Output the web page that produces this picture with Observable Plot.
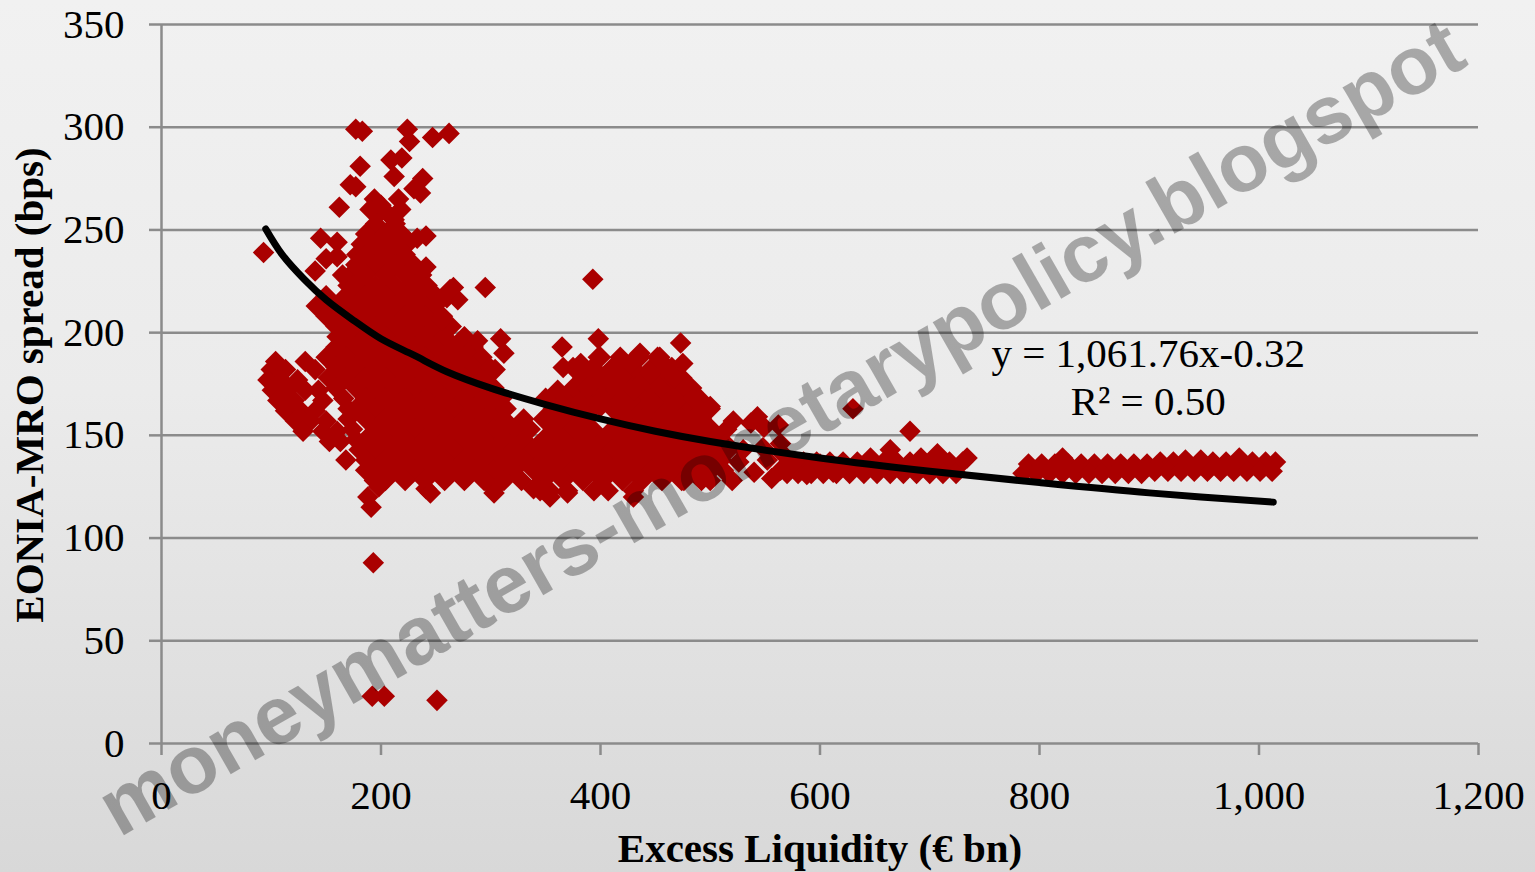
<!DOCTYPE html>
<html><head><meta charset="utf-8">
<script src="https://cdn.jsdelivr.net/npm/d3@7"></script>
<script src="https://cdn.jsdelivr.net/npm/@observablehq/plot@0.6"></script>
<style>html,body{margin:0;padding:0;background:#e4e4e4;overflow:hidden;}</style>
</head><body><div id="chart"></div>
<script>
const xTicks = [0, 200, 400, 600, 800, 1000, 1200];
const yTicks = [0, 50, 100, 150, 200, 250, 300, 350];
const trendX = [95, 110, 130, 150, 175, 200, 230, 260, 300, 350, 400, 450, 500, 600, 700, 800, 900, 1013];
const trendY = [250.5, 238, 226, 216, 206, 197, 189, 181, 173, 165, 158, 152, 147, 139, 132.5, 127, 122, 117.5];
const equation = "y = 1,061.76x-0.32\nR² = 0.50";
const xTitle = "Excess Liquidity (€ bn)";
const yTitle = "EONIA-MRO spread (bps)";
const watermark = "moneymatters-monetarypolicy.blogspot";

// dense main cluster: [y, [x values]]
const coreRows = [
  [258, [198, 206]],
  [253, [195, 213]],
  [248, [186, 204, 219]],
  [243, [182, 195, 213, 224]],
  [238, [178, 186, 204, 222]],
  [233, [177, 195, 213, 230]],
  [228, [172, 186, 204, 222, 237]],
  [223, [170, 177, 195, 213, 231, 242]],
  [218, [150, 168, 186, 204, 222, 240, 250]],
  [213, [141, 159, 177, 195, 213, 231, 249]],
  [208, [150, 168, 186, 204, 222, 240, 256]],
  [203, [159, 177, 195, 213, 231, 249, 264]],
  [198, [160, 168, 186, 204, 222, 240, 258, 276]],
  [193, [159, 177, 195, 213, 231, 249, 267, 284]],
  [188, [150, 168, 186, 204, 222, 240, 258, 276, 292]],
  [183, [159, 177, 195, 213, 231, 249, 267, 285, 299]],
  [178, [152, 168, 186, 204, 222, 240, 258, 276, 294]],
  [173, [159, 177, 195, 213, 231, 249, 267, 285, 303]],
  [168, [166, 186, 204, 222, 240, 258, 276, 294, 310]],
  [163, [170, 177, 195, 213, 231, 249, 267, 285, 303, 314]],
  [158, [170, 186, 204, 222, 240, 258, 276, 294, 312, 330, 348]],
  [153, [174, 195, 213, 231, 249, 267, 285, 303, 321, 336]],
  [148, [177, 186, 204, 222, 240, 258, 276, 294, 312, 330, 348]],
  [143, [180, 195, 213, 231, 249, 267, 285, 303, 321, 339]],
  [138, [168, 186, 204, 222, 240, 258, 276, 294, 312, 330, 348]],
  [133, [186, 195, 213, 231, 249, 267, 285, 303, 321, 339]],
  [128, [194, 204, 222, 240, 258, 276, 294, 312, 328]],
  [124, [241, 303, 339]]
];
const leftRows = [
  [186, [104, 131]],
  [182, [100, 113, 140]],
  [177, [97, 109, 124]],
  [172, [101, 115, 131, 143]],
  [167, [106, 121, 147]],
  [162, [113, 127, 140]],
  [157, [122, 136, 150]],
  [152, [129, 147, 160]],
  [147, [153, 163]]
];
const middleRows = [
  [188, [400, 418, 436, 454]],
  [183, [375, 393, 411, 429, 447, 465]],
  [178, [384, 402, 420, 438, 456, 474]],
  [173, [375, 393, 411, 429, 447, 465, 483]],
  [168, [366, 384, 402, 420, 438, 456, 474, 490]],
  [163, [357, 375, 393, 411, 429, 447, 465, 483, 500]],
  [158, [366, 384, 420, 438, 456, 474, 492]],
  [153, [357, 375, 393, 411, 429, 447, 465, 483, 501, 515]],
  [148, [366, 384, 402, 420, 438, 456, 474, 492, 508]],
  [143, [357, 375, 393, 411, 429, 447, 465, 483, 501, 517]],
  [138, [366, 384, 402, 420, 438, 456, 474, 492, 510]],
  [133, [357, 375, 393, 411, 429, 447, 465, 483, 501]],
  [128, [348, 366, 384, 402, 420, 438, 456, 474, 492]],
  [123, [354, 370, 394, 407, 430]]
];
const bandRows = [
  [137, [572, 585, 597, 609, 621, 634, 646, 658, 670, 682, 694, 706, 718, 730]],
  [131.5, [570, 580, 592, 603, 615, 627, 640, 652, 664, 676, 688, 700, 712, 724]]
];
const farBandRows = [
  [136, [790, 802, 814, 826, 838, 850, 862, 874, 886, 898]],
  [137, [910, 922, 934, 946, 958, 970, 982, 994, 1006, 1015]],
  [131.5, [785, 797, 809, 821, 833, 845, 857, 869, 881, 893]],
  [132.5, [905, 917, 929, 941, 953, 965, 977, 989, 1001, 1012]]
];
const upperPoints = [
  [365,193],[398,197],[473,195],[475,185],[477,173],[366,183],[382,185],[412,183],[427,185],
  [452,188],[461,183],[361,172],[388,173],[415,175],[439,177],[455,173],[366,164],[400,164],
  [427,167],[448,166],[470,167],[491,162],[500,164],[521,157],[537,156],[549,154],[562,155],
  [543,159],[564,146],[436,190],[393,226],[484,168],[405,178],[430,172],[398,188],[445,180],
  [468,178],[350,168],[304,182],[309,197],[288,196],[312,190]
];
const topPoints = [
  [177,299],[183,298],[224,299],[226,293],[247,295],[262,297],
  [181,281],[177,271],[172,272],[162,261],[209,284],[219,285],[212,276],[238,275],[236,268],[230,270],
  [194,265],[190,260],[216,265],[218,260],[212,255],[200,262],
  [145,246],[160,244],[93,239],[160,237],[241,247],[233,246],[241,232],[140,230],[150,236],[165,228],
  [266,222],[260,217],[270,216],[295,222],[263,221],[255,206]
];
const lowPoints = [
  [192,23],[203,23],[251,21],[193,88],[188,120],[191,115],[198,125],[245,122],[303,122],
  [370,122],[345,123],[354,120],[476,128],[430,120],[630,163],[682,152]
];
const bandPoints = [
  [500,141],[514,146],[530,143],[548,144],[566,141],[500,128],[512,133],[520,128],[526,137],
  [540,132],[552,138],[556,129],[564,133],[576,137],[588,131],[600,136],[612,132],[622,136],
  [638,135],[646,139],[660,137],[664,143],[692,139],[707,141],[734,139]
];
const farBandPoints = [[821,139],[933,138],[947,138],[982,139]];

const fromRows = rows => rows.flatMap(([y, xs]) => xs.map(x => ({x, y})));
const fromPairs = pairs => pairs.map(([x, y]) => ({x, y}));
const points = [
  ...fromRows(coreRows), ...fromRows(leftRows), ...fromRows(middleRows),
  ...fromRows(bandRows), ...fromRows(farBandRows),
  ...fromPairs(upperPoints), ...fromPairs(topPoints), ...fromPairs(lowPoints),
  ...fromPairs(bandPoints), ...fromPairs(farBandPoints)
];
const trend = trendX.map((x, i) => ({x, y: trendY[i]}));

const gray = "#8b8b8b";
const chart = Plot.plot({
  width: 1535, height: 872,
  marginLeft: 161, marginRight: 57, marginTop: 24, marginBottom: 129,
  style: {
    background: "linear-gradient(to bottom, #f1f1f1 0%, #ebebeb 45%, #d8d8d8 100%)",
    fontFamily: "'Liberation Serif', 'Times New Roman', serif",
    fontSize: "41px",
    color: "black"
  },
  x: {domain: [0, 1200], axis: null},
  y: {domain: [0, 350], axis: null},
  marks: [
    Plot.gridY(yTicks, {stroke: gray, strokeOpacity: 1, strokeWidth: 2.5}),
    Plot.ruleX([0], {y1: 0, y2: 350, stroke: gray, strokeWidth: 2.5}),
    Plot.dot(points, {x: "x", y: "y", symbol: "diamond2", r: 9.7, fill: "#aa0000", stroke: null}),
    Plot.line(trend, {x: "x", y: "y", stroke: "black", strokeWidth: 7, curve: "catmull-rom", strokeLinecap: "round"}),
    Plot.axisY(yTicks, {anchor: "left", tickSize: 12, tickPadding: 25, stroke: gray, strokeWidth: 2.5, fill: "black", fontSize: 41, label: null}),
    Plot.axisX(xTicks, {anchor: "bottom", tickSize: 12, tickPadding: 24, stroke: gray, strokeWidth: 2.5, fill: "black", fontSize: 41, tickFormat: d3.format(","), label: null}),
    Plot.text([equation], {x: 899, y: 159.7, text: d => d, textAnchor: "middle", lineAnchor: "bottom", lineHeight: 1.17, fontSize: 41, fill: "black"}),
    Plot.text([xTitle], {frameAnchor: "bottom", dy: 118, text: d => d, textAnchor: "middle", lineAnchor: "bottom", fontSize: 41, fontWeight: "bold", fill: "black"}),
    Plot.text([yTitle], {frameAnchor: "left", dx: -119, dy: 1, rotate: -90, text: d => d, textAnchor: "middle", lineAnchor: "bottom", fontSize: 41, fontWeight: "bold", fill: "black"}),
    Plot.text([watermark], {frameAnchor: "top-left", dx: 620, dy: 404, rotate: -29.8, text: d => d, lineAnchor: "middle", textAnchor: "middle", fontSize: 82, fontWeight: "bold", fontFamily: "'Liberation Sans', Arial, sans-serif", fill: "black", fillOpacity: 0.3})
  ]
});
document.getElementById("chart").appendChild(chart);
</script>
</body></html>
